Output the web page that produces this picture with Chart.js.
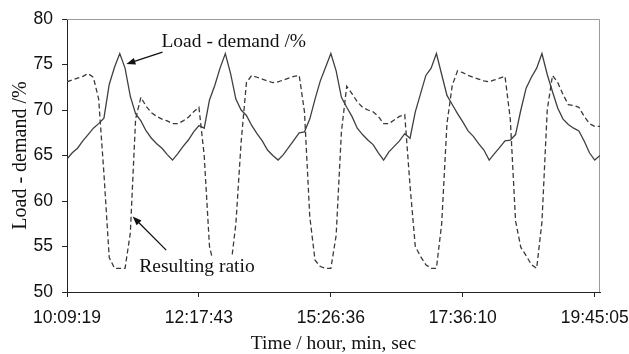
<!DOCTYPE html>
<html>
<head>
<meta charset="utf-8">
<script src="https://cdn.jsdelivr.net/npm/chart.js@4/dist/chart.umd.min.js"></script>
<style>
  body { margin: 0; background: #fff; }
  canvas { display: block; }
</style>
</head>
<body>
<canvas id="loadGraph" width="629" height="354"></canvas>
<script>
// time stamps shown on the x axis and the sample index where each sits
let timeLabels = ['10:09:19', '12:17:43', '15:26:36', '17:36:10', '19:45:05'];
let labelIndex = [0, 25, 50, 75, 100];

// Load - demand /% (solid)
let loadDemand = [
  64.6, 65.3, 65.8, 66.6, 67.3, 68.0, 68.5, 69.1, 72.8, 74.7,
  76.2, 74.6, 71.5, 69.6, 68.8, 67.7, 66.9, 66.3, 65.8, 65.1,
  64.5, 65.2, 66.0, 66.7, 67.6, 68.3, 68.0, 71.1, 72.7, 74.6,
  76.2, 74.0, 71.2, 70.0, 69.4, 68.3, 67.4, 66.6, 65.6, 65.0,
  64.5, 65.1, 65.9, 66.7, 67.5, 67.6, 69.0, 71.2, 73.2, 74.7,
  76.2, 74.3, 71.4, 70.3, 69.3, 68.0, 67.3, 66.7, 66.2, 65.3,
  64.5, 65.4, 66.0, 66.6, 67.4, 66.9, 69.8, 71.8, 73.8, 74.6,
  76.2, 73.9, 71.6, 70.6, 69.6, 68.7, 67.7, 67.1, 66.3, 65.6,
  64.5, 65.2, 65.9, 66.6, 66.7, 67.3, 70.0, 72.4, 73.6, 74.6,
  76.2, 73.9, 72.0, 70.2, 69.0, 68.4, 68.0, 67.7, 66.6, 65.3,
  64.5, 65.0
];

// Resulting ratio (dashed)
let resultingRatio = [
  73.1, 73.3, 73.5, 73.7, 74.0, 73.6, 71.2, 63.0, 53.8, 52.6,
  52.6, 52.6, 56.5, 69.0, 71.4, 70.4, 69.7, 69.3, 69.0, 68.8,
  68.5, 68.5, 68.8, 69.2, 69.8, 70.3, 65.0, 55.0, 52.6, 52.6,
  52.6, 52.6, 57.5, 66.5, 73.0, 73.8, 73.6, 73.4, 73.2, 73.0,
  73.1, 73.3, 73.5, 73.7, 73.8, 69.8, 58.3, 53.5, 52.8, 52.6,
  52.6, 56.2, 67.6, 72.6, 71.8, 70.9, 70.3, 70.0, 69.8, 69.3,
  68.5, 68.5, 68.9, 69.3, 69.5, 61.7, 55.0, 53.9, 53.0, 52.6,
  52.6, 57.5, 68.5, 72.7, 74.3, 74.1, 73.8, 73.6, 73.4, 73.2,
  73.1, 73.3, 73.5, 73.7, 69.0, 57.8, 54.9, 54.0, 53.0, 52.6,
  57.7, 70.0, 73.8, 73.0, 71.7, 70.6, 70.5, 70.3, 69.3, 68.5,
  68.2, 68.2
];

let serif = '"Liberation Serif", "Times New Roman", serif';
let sans = '"Liberation Sans", Arial, sans-serif';

// callouts, placed in data units (x = sample index, y = value)
let callouts = [
  { text: 'Load - demand /%', x: 17.9, y: 77.45, from: [18.1, 76.35], to: [11.25, 75.05], box: false },
  { text: 'Resulting ratio', x: 13.7, y: 52.75, from: [18.8, 54.6], to: [12.45, 58.3], box: true }
];

function toPoints(arr) {
  return arr.map((v, i) => ({ x: i, y: v }));
}

let notes = {
  id: 'notes',
  beforeDatasetsDraw(chart) {
    let ctx = chart.ctx, a = chart.chartArea;
    ctx.save();
    ctx.strokeStyle = '#9a9a9a';
    ctx.lineWidth = 1;
    ctx.beginPath();
    ctx.moveTo(a.left, a.top + 0.5);
    ctx.lineTo(a.right - 0.5, a.top + 0.5);
    ctx.lineTo(a.right - 0.5, a.bottom);
    ctx.stroke();
    ctx.restore();
  },
  afterDatasetsDraw(chart) {
    let ctx = chart.ctx, xs = chart.scales.x, ys = chart.scales.y;
    ctx.save();
    ctx.font = '19.5px ' + serif;
    ctx.textBaseline = 'middle';
    callouts.forEach(c => {
      let tx = xs.getPixelForValue(c.x), ty = ys.getPixelForValue(c.y);
      let w = ctx.measureText(c.text).width;
      if (c.box) {
        ctx.fillStyle = '#fff';
        ctx.fillRect(tx - 3, ty - 11, w + 6, 24);
      }
      ctx.fillStyle = '#111';
      ctx.fillText(c.text, tx, ty);

      let x1 = xs.getPixelForValue(c.from[0]), y1 = ys.getPixelForValue(c.from[1]);
      let x2 = xs.getPixelForValue(c.to[0]), y2 = ys.getPixelForValue(c.to[1]);
      let ang = Math.atan2(y2 - y1, x2 - x1);
      ctx.strokeStyle = '#111';
      ctx.lineWidth = 1.3;
      ctx.beginPath();
      ctx.moveTo(x1, y1);
      ctx.lineTo(x2 - 6 * Math.cos(ang), y2 - 6 * Math.sin(ang));
      ctx.stroke();
      ctx.beginPath();
      ctx.moveTo(x2, y2);
      ctx.lineTo(x2 - 9 * Math.cos(ang) + 3.5 * Math.sin(ang), y2 - 9 * Math.sin(ang) - 3.5 * Math.cos(ang));
      ctx.lineTo(x2 - 9 * Math.cos(ang) - 3.5 * Math.sin(ang), y2 - 9 * Math.sin(ang) + 3.5 * Math.cos(ang));
      ctx.closePath();
      ctx.fillStyle = '#111';
      ctx.fill();
    });
    ctx.restore();
  }
};

let myGraph = document.getElementById('loadGraph').getContext('2d');

let graph = new Chart(myGraph, {
  type: 'line',
  data: {
    datasets: [{
      label: 'Load - demand /%',
      data: toPoints(loadDemand),
      borderColor: '#404040',
      borderWidth: 1.3,
      pointRadius: 0,
      tension: 0
    }, {
      label: 'Resulting ratio',
      data: toPoints(resultingRatio),
      borderColor: '#3a3a3a',
      borderWidth: 1.3,
      borderDash: [5, 3],
      pointRadius: 0,
      tension: 0
    }]
  },
  options: {
    responsive: false,
    animation: false,
    layout: { padding: { top: 19, right: 29, left: 0, bottom: 0 } },
    plugins: {
      legend: { display: false },
      tooltip: { enabled: false }
    },
    scales: {
      x: {
        type: 'linear',
        min: 0,
        max: 101,
        afterBuildTicks: s => { s.ticks = labelIndex.map(v => ({ value: v })); },
        afterFit: s => { s.height = 62; s.paddingLeft = 0; s.paddingRight = 0; },
        grid: { drawOnChartArea: false, tickLength: 5, color: '#222', tickWidth: 1 },
        border: { color: '#222', width: 1 },
        ticks: {
          autoSkip: false,
          maxRotation: 0,
          padding: 11,
          color: '#111',
          font: { family: sans, size: 17.5 },
          callback: v => timeLabels[labelIndex.indexOf(v)]
        },
        title: {
          display: true,
          text: 'Time / hour, min, sec',
          color: '#111',
          font: { family: serif, size: 19.5, lineHeight: 1 },
          padding: { top: 0, bottom: 0 }
        }
      },
      y: {
        min: 50,
        max: 80,
        afterFit: s => { s.width = 67; s.paddingTop = 0; s.paddingBottom = 0; },
        grid: { drawOnChartArea: false, tickLength: 5, color: '#222' },
        border: { color: '#222', width: 1 },
        ticks: {
          stepSize: 5,
          padding: 9,
          color: '#111',
          font: { family: sans, size: 17.5 }
        },
        title: {
          display: true,
          text: 'Load - demand /%',
          color: '#111',
          font: { family: serif, size: 20, lineHeight: 1 },
          padding: { top: 11, bottom: 0 }
        }
      }
    }
  },
  plugins: [notes]
});
</script>
</body>
</html>
